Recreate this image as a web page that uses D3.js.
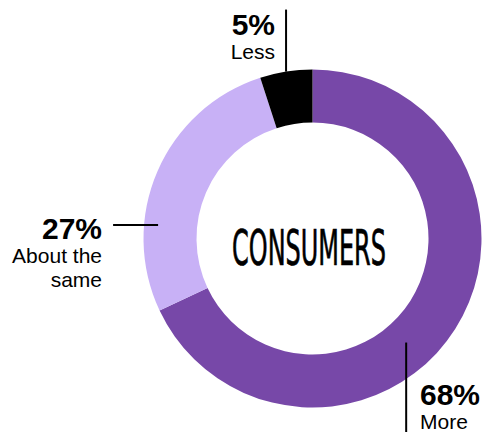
<!DOCTYPE html>
<meta charset="utf-8">
<style>
body { margin: 0; background: #fff; }
.pct { font: bold 30px "Liberation Sans", Arial, sans-serif; fill: #000; }
.lbl { font: 21px "Liberation Sans", Arial, sans-serif; fill: #000; }
.center { font-family: "DejaVu Sans Condensed", "DejaVu Sans", sans-serif; fill: #000; stroke: #000; stroke-width: 0.7; }
.leader { stroke: #000; stroke-width: 2; fill: none; }
</style>
<body>
<script src="https://cdn.jsdelivr.net/npm/d3@7"></script>
<script>

// data, clockwise from 12 o'clock
var categories = ["More", "About the same", "Less"],
    values = [68, 27, 5],
    colors = ["#7748a8", "#c8b1f6", "#000000"],
    labelLines = [["More"], ["About the", "same"], ["Less"]];

var width = 482, height = 432,
    cx = 312.5, cy = 238.5,
    outerR = 169, innerR = 116;

// where each leader line leaves the ring (angle in degrees from top, radius)
// and where the label sits
var leaders = [
  {deg: 138, r: 140, dir: "down", len: 100, tx: 420, ty: 405, anchor: "start"},
  {deg: 275, r: 155, dir: "left", len: 45, tx: 102, ty: 239, anchor: "end"},
  {deg: 351, r: outerR, dir: "up", len: 62, tx: 275, ty: 35, anchor: "end"}
];

var svg = d3.select("body").append("svg")
    .attr("width", width)
    .attr("height", height);

var pie = d3.pie().sort(null).value(function(d) { return d; });
var arc = d3.arc().innerRadius(innerR).outerRadius(outerR);

var g = svg.append("g")
    .attr("transform", "translate(" + cx + "," + cy + ")");

var arcs = pie(values);

g.selectAll("path.slice")
    .data(arcs)
  .enter().append("path")
    .attr("class", "slice")
    .attr("d", arc)
    .style("fill", function(d, i) { return colors[i]; });

// leader lines
leaders.forEach(function(L, i) {
  var a = L.deg * Math.PI / 180;
  var x0 = Math.sin(a) * L.r, y0 = -Math.cos(a) * L.r;
  var x1 = x0, y1 = y0;
  if (L.dir == "up") y1 = y0 - L.len;
  if (L.dir == "down") y1 = y0 + L.len;
  if (L.dir == "left") x1 = x0 - L.len;
  g.append("line")
      .attr("class", "leader")
      .attr("x1", x0).attr("y1", y0)
      .attr("x2", x1).attr("y2", y1);

  var t = svg.append("text")
      .attr("text-anchor", L.anchor);
  t.append("tspan")
      .attr("class", "pct")
      .attr("x", L.tx)
      .attr("y", L.ty)
      .text(values[i] + "%");
  labelLines[i].forEach(function(s, k) {
    t.append("tspan")
        .attr("class", "lbl")
        .attr("x", L.tx)
        .attr("y", L.ty + 24 + k * 24)
        .text(s);
  });
});

// centre title, squeezed into a tall condensed look
var title = svg.append("g");
var tt = title.append("text")
    .attr("class", "center")
    .attr("x", 0)
    .attr("y", 0)
    .attr("text-anchor", "middle")
    .attr("font-size", 50)
    .text("CONSUMERS");
var w = tt.node().getComputedTextLength();
var sx = 154 / w;
title.attr("transform", "translate(309,265) scale(" + sx + ",1)");

</script>
